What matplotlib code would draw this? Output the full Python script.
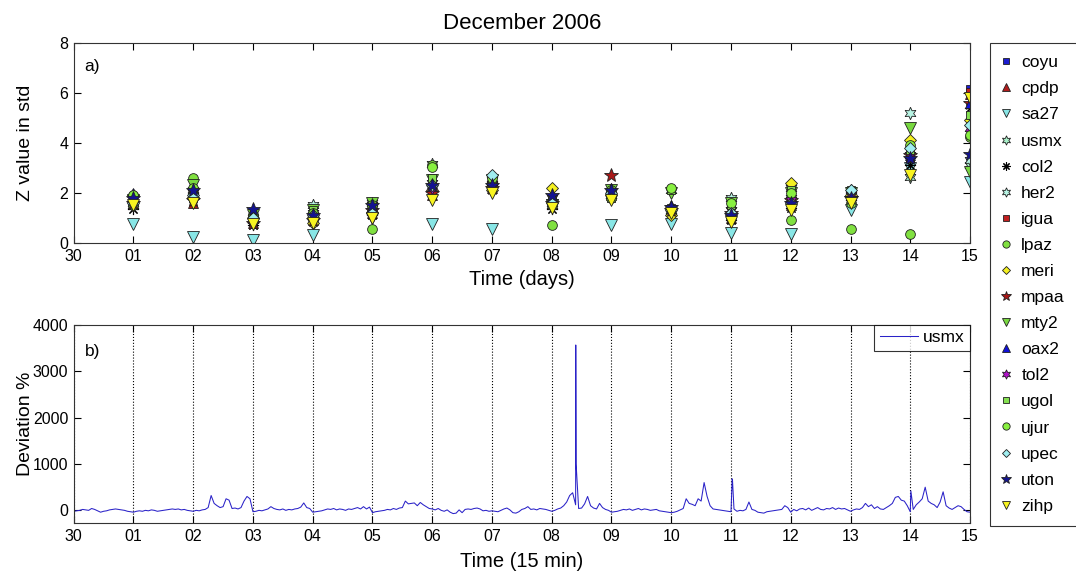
import numpy as np
import matplotlib as mpl
mpl.use('Agg')
import matplotlib.pyplot as plt

plt.rcParams['font.family'] = ['Liberation Sans', 'DejaVu Sans']

day_labels = ['30', '01', '02', '03', '04', '05', '06', '07', '08', '09',
              '10', '11', '12', '13', '14', '15']
days = np.arange(1, 16)

# Z value in std per station, days 01..15
stations = ['coyu', 'cpdp', 'sa27', 'usmx', 'col2', 'her2', 'igua', 'lpaz', 'meri',
            'mpaa', 'mty2', 'oax2', 'tol2', 'ugol', 'ujur', 'upec', 'uton', 'zihp']
z_coyu = [1.8, 2.0, 0.9, 1.1, 1.4, 2.2, 2.3, 1.8, 2.0, 1.4, 1.1, 1.6, 1.8, 3.3, 6.15]
z_cpdp = [1.7, 1.6, 0.8, 0.9, 1.2, 1.9, 2.2, 1.7, 1.9, 1.3, 1.0, 1.5, 1.7, 3.6, 5.95]
z_sa27 = [0.75, 0.25, 0.1, 0.3, 1.0, 0.75, 0.55, 1.5, 0.7, 0.75, 0.4, 0.35, 1.3, 3.0, 2.45]
z_usmx = [1.5, 1.9, 0.9, 1.2, 1.5, 2.4, 2.5, 1.6, 1.9, 1.2, 1.3, 1.8, 2.0, 2.65, 3.1]
z_col2 = [1.35, 1.8, 0.7, 0.9, 1.1, 1.9, 2.3, 1.35, 1.8, 1.2, 0.9, 1.4, 1.7, 3.1, 5.4]
z_her2 = [1.6, 2.1, 1.0, 1.5, 1.6, 3.15, 2.6, 1.5, 2.0, 2.1, 1.8, 2.2, 2.1, 5.2, 3.3]
z_igua = [1.7, 1.9, 0.9, 1.0, 1.3, 2.0, 2.2, 1.7, 2.0, 1.3, 1.0, 1.5, 1.8, 3.4, 6.05]
z_lpaz = [1.5, 2.6, 1.1, 0.9, 0.55, 3.1, 2.4, 0.7, 1.8, 1.2, 1.0, 0.9, 0.55, 0.35, 4.25]
z_meri = [1.9, 1.8, 1.0, 0.8, 1.2, 2.1, 2.1, 2.2, 1.9, 1.1, 1.1, 2.4, 1.9, 4.1, 4.9]
z_mpaa = [1.6, 1.7, 0.8, 0.9, 1.3, 2.0, 2.2, 1.6, 2.7, 1.3, 1.2, 1.7, 1.8, 3.5, 5.6]
z_mty2 = [1.7, 2.3, 1.1, 1.3, 1.6, 2.5, 2.5, 1.5, 2.1, 2.0, 1.6, 2.0, 2.0, 4.6, 2.85]
z_oax2 = [2.0, 2.1, 1.0, 1.2, 1.5, 2.4, 2.4, 1.8, 2.2, 1.5, 1.3, 1.8, 2.0, 3.5, 5.6]
z_tol2 = [1.8, 2.0, 0.9, 1.1, 1.4, 2.2, 2.3, 1.8, 2.0, 1.4, 1.3, 1.7, 1.9, 3.5, 4.6]
z_ugol = [1.8, 1.9, 1.0, 1.3, 1.3, 2.6, 2.5, 1.7, 2.0, 2.1, 1.5, 2.1, 2.1, 3.7, 5.1]
z_ujur = [1.9, 2.2, 1.1, 1.2, 1.5, 3.05, 2.6, 1.5, 2.1, 2.2, 1.6, 2.0, 1.6, 3.9, 4.3]
z_upec = [1.6, 1.9, 1.0, 1.1, 1.2, 2.3, 2.7, 1.6, 2.0, 1.3, 1.2, 1.6, 2.1, 3.8, 4.7]
z_uton = [1.8, 2.1, 1.35, 1.1, 1.5, 2.3, 2.3, 1.9, 2.1, 1.45, 1.1, 1.6, 1.8, 3.4, 3.55]
z_zihp = [1.5, 1.6, 0.75, 0.8, 1.0, 1.7, 2.0, 1.4, 1.7, 1.2, 0.85, 1.3, 1.6, 2.7, 5.8]

# deviation of usmx, read every 0.05 day
dev_values = [
    -20, -10, 0, 20, 10, 0, 40, 20, -10, -40, -20, -10, 10, 20, 30, 20, 10, 0, -20, -30,
    -40, -20, -10, -20, 0, -10, 10, 0, -20, -10, 0, 10, 20, 30, 20, 30, 10, 20, 0, -10,
    -20, 0, -10, 10, 20, 60, 320, 150, 100, 60, 80, 250, 220, 40, 50, 30, 60, 200, 300, 250,
    -30, -20, 0, -10, 10, 30, 80, 40, 20, 10, 30, 0, 20, 10, 30, 40, 70, 160, 60, 40,
    -40, -30, -20, -10, 10, 30, 20, 40, 10, 30, 20, 0, 30, 20, 40, 60, 30, 80, 30, 70,
    -50, -30, -20, -10, 0, 20, 10, 40, 20, 50, 60, 200, 140, 150, 160, 100, 170, 120, 80, 40,
    30, 10, 40, 0, -20, 10, -40, -70, -60, 10, -50, 20, 30, 20, 40, 50, 30, -10, 0, -20,
    -10, -20, -30, 0, 30, 50, 10, -50, -60, -30, 20, 40, 80, 20, 30, 10, 40, 30, 20, 0,
    -20, 0, 30, 50, 100, 180, 320, 380, 120, 40, 50, 140, 300, 100, 50, 30, 150, 60, 20, 0,
    -40, -30, -20, 0, 20, 10, 30, 0, 20, 40, 10, 30, 20, 0, 10, 20, -10, -20, -30, -40,
    -50, -40, -20, 10, 40, 250, 150, 130, 100, 250, 200, 600, 300, 100, 30, 20, 10, 0, -10, -20,
    -30, 30, -20, 0, -10, 20, 180, 20, 0, -40, -50, -60, -30, -20, -10, 0, 10, 20, 100, 60,
    -40, 20, -10, 30, 40, 10, 50, 0, 30, 60, 20, 10, 40, 30, 60, 20, 50, 30, 40, 10,
    -20, 10, 30, 20, 60, 150, 80, 120, 40, 80, 30, 20, 60, 100, 150, 280, 300, 220, 200, 100,
    -30, 20, 120, 180, 250, 500, 200, 150, 120, 60, 180, 400, 100, 50, 20, 60, 100, 80, 20, -30,
    -40,
]
spike_time = [8.402, 8.405, 8.408, 11.02, 11.025, 14.01]
spike_value = [3570, 2030, 1000, 680, 650, 420]

z_data = [z_coyu, z_cpdp, z_sa27, z_usmx, z_col2, z_her2, z_igua, z_lpaz, z_meri,
          z_mpaa, z_mty2, z_oax2, z_tol2, z_ugol, z_ujur, z_upec, z_uton, z_zihp]
markers = ['s', '^', 'v', (6, 1, 0), (8, 2, 0), (6, 1, 0), 's', 'o', 'D',
           '*', 'v', '^', (6, 1, 0), 's', 'o', 'D', '*', 'v']
faces = ['#1c1cd0', '#b01c1c', '#88e6e6', '#a8f0c8', 'k', '#b8f4e4', '#c02020', '#80e040',
         '#f4f020', '#a81818', '#78d840', '#1010d8', '#b010c8', '#84e050', '#88f040',
         '#a0eef0', '#141490', '#f8f420']
sizes = [6, 7, 8, 9, 8, 9, 6, 7, 6, 10, 8, 7, 9, 6, 7, 6, 10, 8]

fig = plt.figure(figsize=(10.76, 5.73), dpi=100)
ax1 = fig.add_axes([0.0685, 0.576, 0.8330, 0.349])
ax2 = fig.add_axes([0.0685, 0.0867, 0.8330, 0.3460])

handles = []
for name, z, m, fc, s in zip(stations, z_data, markers, faces, sizes):
    if name == 'col2':
        h, = ax1.plot(days, z, ls='none', marker=m, ms=s, color='k', mew=0.8, label=name)
    else:
        h, = ax1.plot(days, z, ls='none', marker=m, ms=s, mfc=fc, mec='#202020',
                      mew=0.6, label=name)
    handles.append(h)

ax1.set_xlim(0, 15)
ax1.set_ylim(0, 8)
ax1.set_yticks([0, 2, 4, 6, 8])
ax1.set_xticks(np.arange(16))
ax1.set_xticklabels(day_labels)
ax1.set_xlabel('Time (days)', fontsize=14.5, labelpad=5)
ax1.set_ylabel('Z value in std', fontsize=14)
ax1.set_title('December 2006', fontsize=16, pad=10)
ax1.text(0.012, 0.86, 'a)', transform=ax1.transAxes, fontsize=12.5)

dev_time = np.arange(len(dev_values)) * 0.05
t_all = np.concatenate([dev_time, spike_time])
v_all = np.concatenate([dev_values, spike_value])
order = np.argsort(t_all)
ax2.plot(t_all[order], v_all[order], color='#2a22c8', lw=0.75, label='usmx')
ax2.set_xlim(0, 15)
ax2.set_ylim(-280, 4000)
ax2.set_yticks([0, 1000, 2000, 3000, 4000])
ax2.set_xticks(np.arange(16))
ax2.set_xticklabels(day_labels)
ax2.grid(axis='x', color='k', ls=':', lw=0.8)
ax2.set_xlabel('Time (15 min)', fontsize=14.5, labelpad=6)
ax2.set_ylabel('Deviation %', fontsize=14)
ax2.text(0.012, 0.845, 'b)', transform=ax2.transAxes, fontsize=12.5)
leg2 = ax2.legend(loc='upper right', fontsize=12.5, handlelength=2.2, frameon=True,
                  fancybox=False, borderaxespad=0, borderpad=0.3, handletextpad=0.3)
leg2.get_frame().set_edgecolor('k')
leg2.get_frame().set_linewidth(0.8)

for ax in (ax1, ax2):
    ax.tick_params(direction='in', top=True, right=True, labelsize=11.5, length=5,
                   width=0.8)
    ax.tick_params(axis='x', pad=4)
    ax.tick_params(axis='y', pad=4)
    ax.yaxis.set_label_coords(-0.044, 0.5)
    for sp in ax.spines.values():
        sp.set_linewidth(0.8)
        sp.set_color('#333333')

leg = fig.legend(handles=handles, loc='upper left', bbox_to_anchor=(990 / 1076, 1 - 43 / 573),
                 fontsize=12.5, frameon=True, fancybox=False, markerscale=0.75,
                 handlelength=0.5, handletextpad=0.6, labelspacing=0.63, borderpad=0.7,
                 borderaxespad=0)
leg.get_frame().set_edgecolor('k')
leg.get_frame().set_linewidth(0.8)

fig.savefig('out.png', dpi=100)
